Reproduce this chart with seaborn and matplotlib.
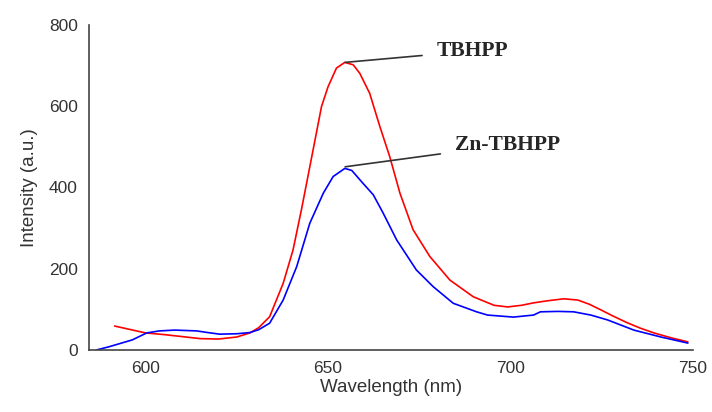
import matplotlib
matplotlib.use("Agg")
import matplotlib.pyplot as plt
import seaborn as sns
import pandas as pd

# TBHPP (red)
tbhpp_wl = [591.5, 595, 600, 605, 610, 615, 620, 625, 628.6, 631, 634, 637.7, 640.4, 642.7, 645,
            646.8, 648.2, 650, 652.3, 654.6, 656.9, 658.7, 661.4, 664.2, 666.9, 669.7, 673.3,
            677.9, 683.4, 689.8, 695.5, 699.2, 703, 706.3, 710, 714.6, 718.4, 721.5, 724.7,
            728, 732, 735.5, 739.3, 744, 748.6]
tbhpp_int = [59, 52, 42, 38, 33, 28, 27, 32, 42, 55, 82, 164, 246, 345, 451,
             534, 599, 648, 694, 708, 702, 681, 632, 550, 476, 386, 296,
             230, 172, 131, 110, 106, 110, 116, 121, 126, 123, 113, 99,
             84, 67, 54, 42, 30, 20]

# Zn-TBHPP (blue)
zn_wl = [586.5, 590, 596.4, 600.3, 603.8, 608, 614, 617, 620.3, 625, 628.6, 631, 634, 637.7,
         641.4, 645, 648.7, 651.4, 654.6, 656.5, 659.6, 662.4, 665.1, 668.8, 674.2, 678.8,
         684.3, 690.7, 693.7, 700.8, 706.3, 708.2, 713, 717.3, 722, 726.6, 733.8, 741.2, 748.6]
zn_int = [0, 8, 25, 42, 47, 49, 47, 43, 39, 40, 43, 50, 66, 123,
          205, 312, 386, 427, 447, 442, 410, 382, 337, 271, 197, 156,
          115, 94, 86, 81, 86, 94, 95, 94, 86, 74, 49, 32, 17]

series_names = ["TBHPP", "Zn-TBHPP"]
x_ticks = [600, 650, 700, 750]
y_ticks = [0, 200, 400, 600, 800]

df = pd.concat([
    pd.DataFrame({"Wavelength": tbhpp_wl, "Intensity": tbhpp_int, "Sample": series_names[0]}),
    pd.DataFrame({"Wavelength": zn_wl, "Intensity": zn_int, "Sample": series_names[1]}),
], ignore_index=True)

sns.set_style("white")
plt.rcParams["font.family"] = ["Liberation Sans", "DejaVu Sans"]

fig = plt.figure(figsize=(7.12, 4.12), dpi=100)
ax = fig.add_axes([89 / 712, 1 - 350 / 412, (693 - 89) / 712, (350 - 25) / 412])

sns.lineplot(data=df, x="Wavelength", y="Intensity", hue="Sample",
             palette={"TBHPP": "#ff0000", "Zn-TBHPP": "#0000ff"},
             sort=False, estimator=None, linewidth=1.2, legend=False, ax=ax)

ax.set_xlim(584.5, 750)
ax.set_ylim(0, 800)
ax.set_xticks(x_ticks)
ax.set_yticks(y_ticks)
ax.tick_params(axis="both", direction="out", length=5, width=1.2, colors="#444444",
               labelsize=12.5, labelcolor="#333333", pad=3)
for s in ["top", "right"]:
    ax.spines[s].set_visible(False)
for s in ["left", "bottom"]:
    ax.spines[s].set_color("#444444")
    ax.spines[s].set_linewidth(1.2)

ax.set_xlabel("Wavelength (nm)", fontsize=13.5, color="#333333", labelpad=2)
ax.set_ylabel("Intensity (a.u.)", fontsize=13.5, color="#333333", labelpad=8)

ax.annotate("TBHPP", xy=(654.7, 708), xytext=(679.7, 736),
            fontsize=15.5, fontweight="bold", family=["Liberation Serif", "DejaVu Serif"],
            va="center", ha="left",
            arrowprops=dict(arrowstyle="-", color="#333333", lw=1.2, shrinkA=8, shrinkB=0))
ax.annotate("Zn-TBHPP", xy=(654.7, 451), xytext=(684.7, 505),
            fontsize=15.5, fontweight="bold", family=["Liberation Serif", "DejaVu Serif"],
            va="center", ha="left",
            arrowprops=dict(arrowstyle="-", color="#333333", lw=1.2, shrinkA=8, shrinkB=0))

fig.savefig("out.png", dpi=100)
